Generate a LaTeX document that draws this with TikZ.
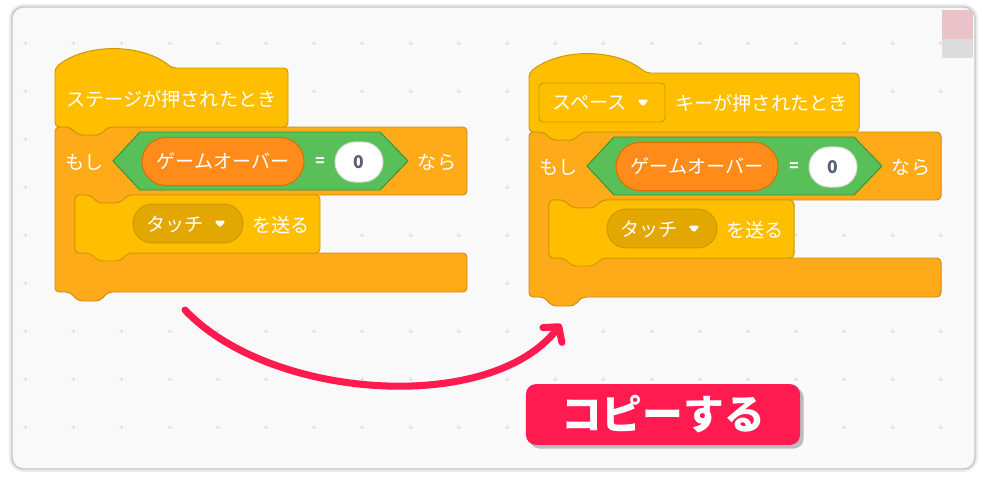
\documentclass[tikz,border=0pt]{standalone}
\usepackage{fontspec}
\setmainfont{Noto Sans CJK JP}
\usepackage{tikz}
\usepackage{xcolor}
\usetikzlibrary{arrows.meta, shadows}

\definecolor{evyellow}{HTML}{FFBF00}
\definecolor{evborder}{HTML}{CC9900}
\definecolor{menudark}{HTML}{E2A700}
\definecolor{ctlorange}{HTML}{FFAB19}
\definecolor{ctlborder}{HTML}{CF8B17}
\definecolor{opgreen}{HTML}{59C059}
\definecolor{opborder}{HTML}{389438}
\definecolor{varorange}{HTML}{FF8C1A}
\definecolor{varborder}{HTML}{DB6E00}
\definecolor{numgray}{HTML}{575E75}
\definecolor{copypink}{HTML}{FF1A4F}
\definecolor{canvasbg}{HTML}{F9F9F9}
\definecolor{patchpink}{HTML}{E9C3C9}
\definecolor{patchgray}{HTML}{DCDCDC}

% the "if" part of a script, drawn in local pixel coordinates
\newcommand{\ifscript}[1]{%
    % C block
    \draw[ctlblock] (0,0) -- (15,0) -- (23,8) -- (45,8) -- (53,0) -- (412,0) -- (412,68)
        -- (73,68) -- (65,76) -- (43,76) -- (35,68) -- (20,68) -- (20,126) -- (412,126)
        -- (412,165) -- (53,165) -- (45,174) -- (23,174) -- (15,165) -- (0,165) -- cycle;
    % nested broadcast block
    \draw[evblock] (20,68) -- (35,68) -- (43,76) -- (65,76) -- (73,68) -- (265,68) -- (265,126)
        -- (73,126) -- (65,134) -- (43,134) -- (35,126) -- (20,126) -- cycle;
    % condition
    \node[blocktext] (#1-if) at (29.5,35) {もし};
    \draw[opblock] (58,34) -- (85,5) -- (325,5) -- (353,34) -- (325,63) -- (85,63) -- cycle;
    \node[varpill] (#1-var) at (168,34.5) {ゲームオーバー};
    \node[blocktext, font=\bfseries\fontsize{11}{13}\selectfont] (#1-eq) at (265,35) {=};
    \node[numpill] (#1-num) at (304,35) {0};
    \node[blocktext] (#1-then) at (382,35) {なら};
    % broadcast
    \node[menupill] (#1-menu) at (133,96.5) {};
    \node[blocktext] (#1-msg) at (120,97) {タッチ};
    \draw[droptri] (160,94) -- (170,94) -- (165,100) -- cycle;
    \node[blocktext] (#1-send) at (226,98) {を送る};
}

\begin{document}
\begin{tikzpicture}[
        x=0.025cm, y=-0.025cm,
        blocktext/.style={text=white, inner sep=0pt, font=\fontsize{13.6}{16}\selectfont},
        evblock/.style={fill=evyellow, draw=evborder, line width=0.7pt, rounded corners=3pt},
        ctlblock/.style={fill=ctlorange, draw=ctlborder, line width=0.7pt, rounded corners=3pt},
        opblock/.style={fill=opgreen, draw=opborder, line width=0.7pt},
        varpill/.style={blocktext, fill=varorange, draw=varborder, line width=0.7pt,
            minimum width=4.05cm, minimum height=1.2cm, rounded corners=0.6cm},
        numpill/.style={fill=white, draw=black!15, line width=0.7pt, text=numgray,
            font=\bfseries\fontsize{12.5}{15}\selectfont, inner sep=0pt,
            minimum width=1.2cm, minimum height=1.0cm, rounded corners=0.5cm},
        menupill/.style={fill=menudark, draw=evborder, line width=0.7pt,
            minimum width=2.75cm, minimum height=0.97cm, rounded corners=0.48cm},
        keymenu/.style={fill=evyellow, draw=evborder, line width=0.7pt, rounded corners=3pt},
        droptri/.style={fill=white, draw=white, line width=0.6pt, rounded corners=1pt},
        gridmark/.style={draw=black!13, line width=0.5pt},
        copyarrow/.style={draw=copypink, line width=5pt, line cap=round,
            -{Straight Barb[length=0.26cm, width=0.6cm, round]}},
        copylabel/.style={fill=copypink, text=white, rounded corners=0.25cm,
            minimum width=6.85cm, minimum height=1.52cm, inner sep=0pt,
            font=\bfseries\fontsize{29}{33}\selectfont,
            drop shadow={shadow xshift=0.09cm, shadow yshift=-0.09cm, opacity=0.45, fill=black!55}}
    ]
    \useasboundingbox (0,0) rectangle (987,481);

    % canvas frame
    \draw[black!8, line width=4pt, rounded corners=8pt] (12,7) rectangle (975,469);
    \draw[fill=canvasbg, draw=black!22, line width=1pt, rounded corners=8pt] (12,7) rectangle (975,469);
    \fill[patchpink] (942,10) rectangle (973,39);
    \fill[patchgray] (942,39) rectangle (973,58);

    % grid marks
    \foreach \i in {0,...,19} {
        \foreach \j in {0,...,8} {
            \draw[gridmark] ({25+48.2*\i-2},{43+48*\j}) -- ++(4,0)
                ({25+48.2*\i},{43+48*\j-2}) -- ++(0,4);
        }
    }

    % left script
    \begin{scope}[shift={(55,127)}]
        \ifscript{left}
    \end{scope}
    \draw[evblock] (55,127) -- (55,68) .. controls (85,43) and (142,43) .. (172,68) -- (288,68)
        -- (288,127) -- (108,127) -- (100,135) -- (78,135) -- (70,127) -- cycle;
    \node[blocktext] (lefthat) at (171.5,99) {ステージが押されたとき};

    % right script
    \begin{scope}[shift={(529,132)}]
        \ifscript{right}
    \end{scope}
    \draw[evblock] (529,132) -- (529,73) .. controls (559,48) and (616,48) .. (646,73) -- (859,73)
        -- (859,132) -- (582,132) -- (574,140) -- (552,140) -- (544,132) -- cycle;
    \draw[keymenu] (539,83) rectangle (665,122);
    \node[blocktext] (keyname) at (589.5,103) {スペース};
    \draw[droptri] (638,100) -- (648,100) -- (643,106) -- cycle;
    \node[blocktext] (righthat) at (761.5,103) {キーが押されたとき};

    % copy arrow
    \coordinate (copyfrom) at (185,310);
    \coordinate (copyto) at (561,324);
    \draw[copyarrow] (copyfrom) .. controls (270,400) and (490,415) .. (copyto);

    \node[copylabel] (copy) at (663,414.5) {コピーする};
\end{tikzpicture}
\end{document}
